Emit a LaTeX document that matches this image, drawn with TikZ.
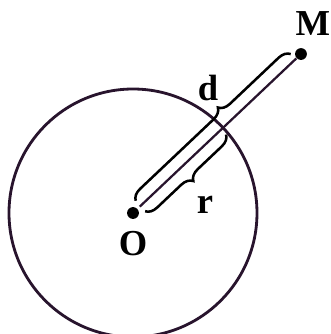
\documentclass[tikz,border=0pt]{standalone}
\usepackage{fontspec}
\setmainfont{Liberation Serif}
\usetikzlibrary{calc,decorations.pathreplacing}
\definecolor{ink}{RGB}{40,20,45}

\begin{document}
\begin{tikzpicture}[
    x=1.25cm, y=1.25cm,
    pt/.style={circle, fill=black, inner sep=0pt, minimum size=4.2pt},
    lbl/.style={font=\bfseries\fontsize{13}{15}\selectfont, inner sep=1pt},
    bracket/.style={decorate, line width=0.9pt,
      decoration={brace, amplitude=4pt, raise=2.5pt}}
  ]
  \useasboundingbox (0,0) rectangle (3.31,3.34);

  \node[pt] (O) at (1.33,1.21) {};
  \node[pt] (M) at (3.01,2.80) {};
  \coordinate (P) at ($(O)!1.24cm*1.25!(M)$);

  \draw[ink, line width=1pt] (O.center) circle[radius=1.24];
  \draw[ink, line width=0.8pt] ($(O)!0.04!(M)$) -- (M);

  % braces for d and r
  \draw[bracket, decoration={aspect=0.58}] ($(O)!0.045!(M)$) -- ($(O)!0.97!(M)$);
  \draw[bracket] ($(O)!0.98!(P)$) -- ($(O)!0.08!(P)$);

  \node[lbl] (dlabel) at (2.08,2.46) {d};
  \node[lbl] (rlabel) at (2.05,1.29) {r};
  \node[lbl] (Olabel) at (1.33,0.90) {O};
  \node[lbl] (Mlabel) at (3.13,3.10) {M};
\end{tikzpicture}
\end{document}
